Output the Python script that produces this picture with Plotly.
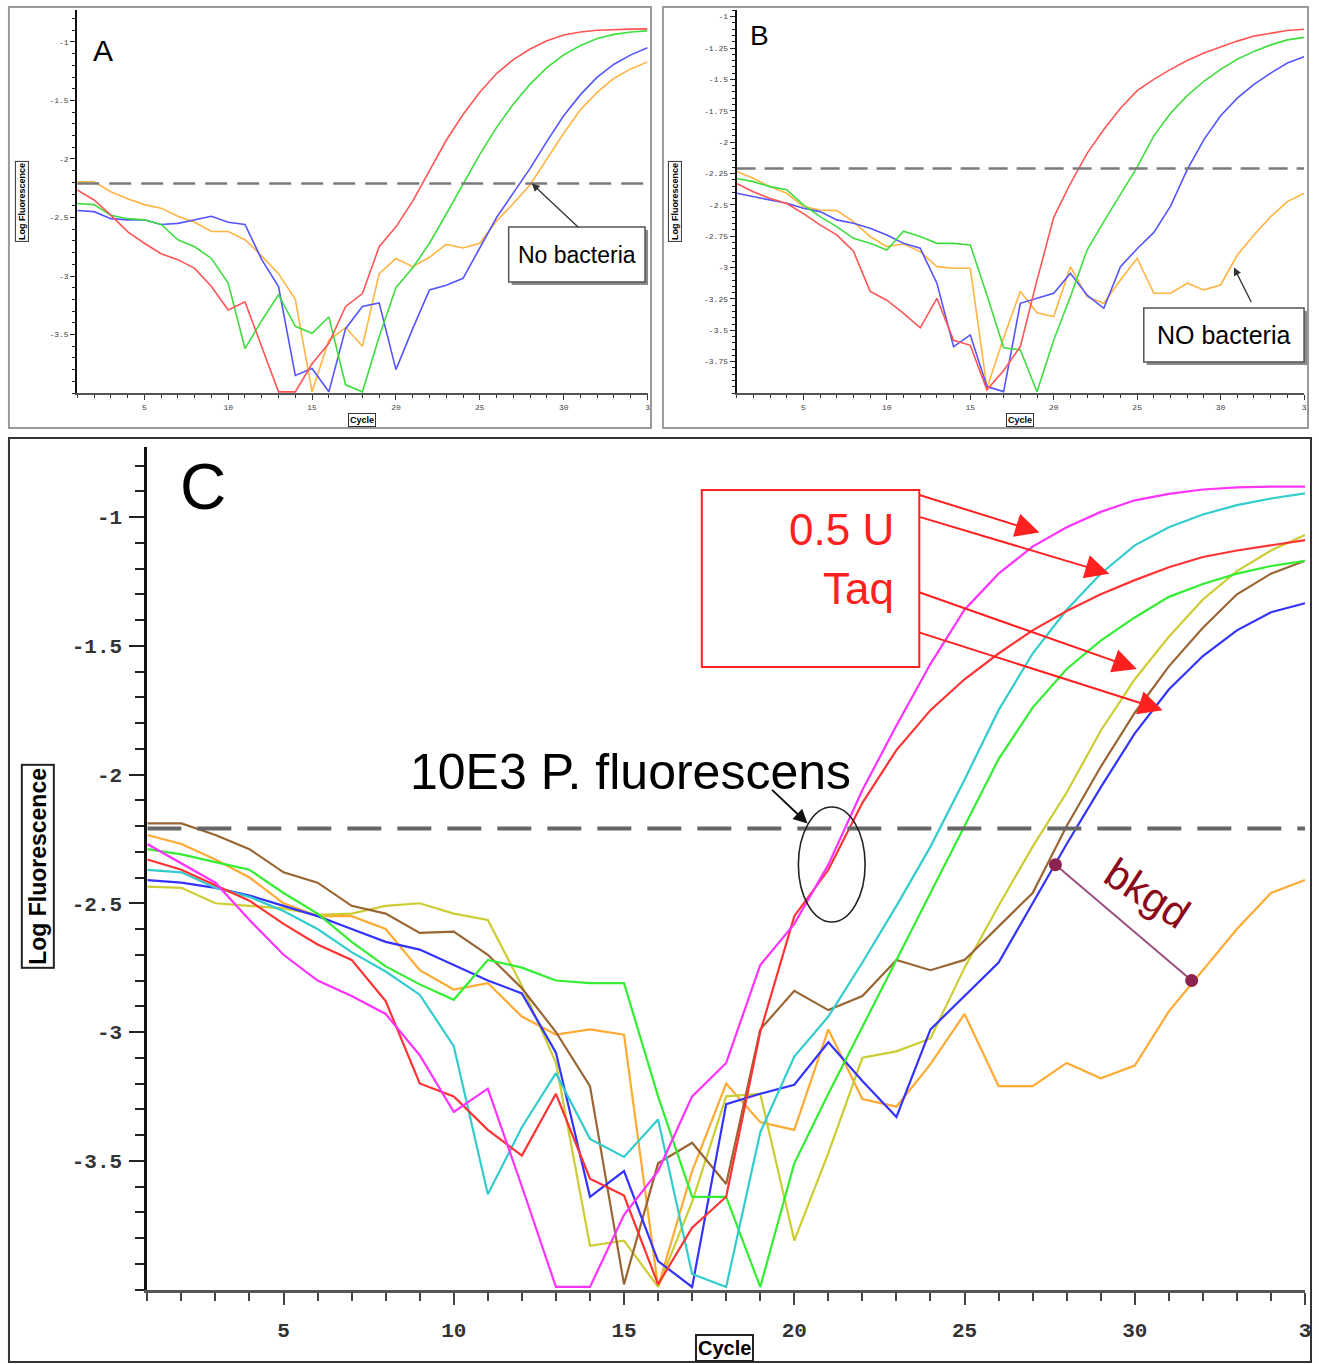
import plotly.graph_objects as go

W, H = 1319, 1364

cycles = list(range(1, 36))

# ---------------- Panel A ----------------
a_red = [-2.265, -2.35, -2.48, -2.62, -2.72, -2.81, -2.86, -2.935, -3.09, -3.29, -3.22, -3.60, -3.99, -3.99, -3.75,
         -3.575, -3.26, -3.15, -2.75, -2.58, -2.36, -2.10, -1.84, -1.62, -1.43, -1.27, -1.15, -1.06, -0.99, -0.94,
         -0.915, -0.90, -0.893, -0.89, -0.888]
a_green = [-2.38, -2.39, -2.48, -2.51, -2.52, -2.56, -2.69, -2.75, -2.85, -3.06, -3.62, -3.38, -3.16, -3.43, -3.49,
           -3.35, -3.93, -3.99, -3.52, -3.10, -2.93, -2.72, -2.47, -2.21, -1.96, -1.73, -1.53, -1.36, -1.22, -1.11,
           -1.03, -0.97, -0.935, -0.915, -0.905]
a_blue = [-2.44, -2.45, -2.51, -2.52, -2.52, -2.56, -2.55, -2.52, -2.49, -2.54, -2.56, -2.86, -3.09, -3.85, -3.79,
          -3.99, -3.45, -3.26, -3.23, -3.80, -3.45, -3.12, -3.08, -3.02, -2.76, -2.50, -2.29, -2.08, -1.85, -1.63,
          -1.45, -1.30, -1.19, -1.11, -1.05]
a_orange = [-2.195, -2.195, -2.28, -2.34, -2.39, -2.42, -2.49, -2.54, -2.62, -2.62, -2.69, -2.83, -2.98, -3.20, -3.99,
            -3.55, -3.44, -3.60, -2.98, -2.85, -2.92, -2.84, -2.73, -2.76, -2.72, -2.53, -2.38, -2.22, -2.00, -1.78,
            -1.58, -1.43, -1.31, -1.23, -1.17]
a_threshold = -2.21

# ---------------- Panel B ----------------
b_red = [-2.33, -2.395, -2.45, -2.49, -2.57, -2.66, -2.74, -2.87, -3.19, -3.26, -3.365, -3.48, -3.245, -3.58, -3.62,
         -3.975, -3.82, -3.63, -3.10, -2.60, -2.33, -2.09, -1.90, -1.73, -1.59, -1.50, -1.42, -1.35, -1.29, -1.24,
         -1.195, -1.155, -1.13, -1.11, -1.10]
b_green = [-2.29, -2.315, -2.355, -2.38, -2.50, -2.594, -2.674, -2.767, -2.807, -2.86, -2.71, -2.753, -2.807, -2.807,
           -2.82, -3.22, -3.64, -3.657, -3.99, -3.577, -3.232, -2.86, -2.634, -2.42, -2.20, -1.95, -1.77, -1.63,
           -1.515, -1.42, -1.34, -1.277, -1.225, -1.185, -1.165]
b_blue = [-2.408, -2.435, -2.46, -2.488, -2.528, -2.554, -2.62, -2.647, -2.687, -2.74, -2.807, -2.846, -3.125, -3.63,
          -3.537, -3.949, -3.989, -3.285, -3.245, -3.205, -3.046, -3.22, -3.325, -2.993, -2.85, -2.72, -2.51, -2.22,
          -1.98, -1.79, -1.65, -1.54, -1.45, -1.37, -1.32]
b_orange = [-2.235, -2.289, -2.355, -2.408, -2.514, -2.541, -2.546, -2.634, -2.753, -2.833, -2.812, -2.873, -2.993,
            -3.006, -3.006, -3.96, -3.56, -3.19, -3.36, -3.39, -2.993, -3.232, -3.285, -3.10, -2.926, -3.205, -3.205,
            -3.125, -3.178, -3.139, -2.90, -2.74, -2.594, -2.474, -2.408]
b_threshold = -2.21

# ---------------- Panel C ----------------
c_magenta = [-2.27, -2.345, -2.42, -2.565, -2.70, -2.80, -2.86, -2.93, -3.09, -3.31, -3.22, -3.60, -3.99, -3.99,
             -3.71, -3.54, -3.25, -3.12, -2.74, -2.58, -2.35, -2.06, -1.81, -1.57, -1.36, -1.22, -1.115, -1.04,
             -0.98, -0.935, -0.91, -0.893, -0.885, -0.882, -0.882]
c_red = [-2.33, -2.37, -2.43, -2.49, -2.58, -2.66, -2.72, -2.88, -3.20, -3.25, -3.38, -3.48, -3.24, -3.57, -3.635,
         -3.98, -3.76, -3.64, -3.00, -2.55, -2.37, -2.11, -1.905, -1.75, -1.63, -1.53, -1.44, -1.365, -1.30, -1.245,
         -1.195, -1.155, -1.13, -1.11, -1.09]
c_cyan = [-2.37, -2.38, -2.44, -2.475, -2.53, -2.60, -2.69, -2.765, -2.855, -3.055, -3.63, -3.37, -3.16, -3.415,
          -3.485, -3.34, -3.94, -3.99, -3.39, -3.095, -2.94, -2.73, -2.51, -2.28, -2.02, -1.75, -1.53, -1.36, -1.22,
          -1.11, -1.04, -0.99, -0.954, -0.928, -0.908]
c_green = [-2.29, -2.31, -2.34, -2.37, -2.46, -2.54, -2.65, -2.745, -2.815, -2.875, -2.72, -2.75, -2.80, -2.81, -2.81,
           -3.25, -3.64, -3.64, -3.99, -3.51, -3.24, -2.98, -2.72, -2.46, -2.205, -1.94, -1.74, -1.59, -1.48, -1.39,
           -1.31, -1.26, -1.22, -1.19, -1.17]
c_yellow = [-2.435, -2.44, -2.50, -2.51, -2.52, -2.545, -2.54, -2.51, -2.50, -2.54, -2.565, -2.82, -3.12, -3.83,
            -3.81, -3.99, -3.66, -3.25, -3.24, -3.81, -3.47, -3.10, -3.075, -3.025, -2.75, -2.51, -2.28, -2.07,
            -1.83, -1.63, -1.465, -1.32, -1.21, -1.13, -1.07]
c_brown = [-2.19, -2.19, -2.235, -2.29, -2.38, -2.42, -2.51, -2.54, -2.615, -2.61, -2.70, -2.83, -3.00, -3.21, -3.98,
           -3.51, -3.43, -3.59, -2.99, -2.84, -2.915, -2.86, -2.72, -2.76, -2.72, -2.59, -2.46, -2.20, -1.97, -1.76,
           -1.58, -1.43, -1.30, -1.22, -1.17]
c_blue = [-2.41, -2.42, -2.44, -2.47, -2.51, -2.55, -2.60, -2.65, -2.68, -2.74, -2.80, -2.85, -3.08, -3.64, -3.54,
          -3.89, -3.99, -3.28, -3.24, -3.205, -3.04, -3.19, -3.33, -2.99, -2.86, -2.73, -2.50, -2.27, -2.05, -1.84,
          -1.67, -1.54, -1.44, -1.37, -1.335]
c_orange = [-2.235, -2.27, -2.33, -2.40, -2.50, -2.55, -2.55, -2.60, -2.76, -2.835, -2.81, -2.94, -3.01, -2.99, -3.01,
            -3.99, -3.54, -3.20, -3.35, -3.38, -2.99, -3.26, -3.29, -3.125, -2.93, -3.21, -3.21, -3.12, -3.18, -3.13,
            -2.92, -2.76, -2.60, -2.46, -2.41]
c_threshold = -2.21
bkgd_x = [27.67, 31.67]
bkgd_y = [-2.35, -2.80]

# tick labels
x_tickvals = [5, 10, 15, 20, 25, 30, 35]
x_ticktext = ["5", "10", "15", "20", "25", "30", "3"]
ac_ytickvals = [-1, -1.5, -2, -2.5, -3, -3.5]
ac_yticktext = ["-1", "-1.5", "-2", "-2.5", "-3", "-3.5"]
b_ytickvals = [-1, -1.25, -1.5, -1.75, -2, -2.25, -2.5, -2.75, -3, -3.25, -3.5, -3.75]
b_yticktext = ["-1", "-1.25", "-1.5", "-1.75", "-2", "-2.25", "-2.5", "-2.75", "-3", "-3.25", "-3.5", "-3.75"]


def px(x):
    return x / W


def py(y):
    return 1 - y / H


SANS = "Liberation Sans, Arial, sans-serif"
NARROW = "Liberation Sans Narrow, Arial Narrow, Liberation Sans, sans-serif"
MONO = "Liberation Mono, DejaVu Sans Mono, monospace"

fig = go.Figure()


def add_line(y, color, width, xa, ya):
    fig.add_trace(go.Scatter(x=cycles, y=y, mode="lines", line=dict(color=color, width=width),
                             xaxis=xa, yaxis=ya, showlegend=False, hoverinfo="skip"))


def add_threshold(thr, xa, ya, width, dash, color):
    fig.add_trace(go.Scatter(x=[1, 35], y=[thr, thr], mode="lines",
                             line=dict(color=color, width=width, dash=dash),
                             xaxis=xa, yaxis=ya, showlegend=False, hoverinfo="skip"))


# Panel A traces
for ys, col in [(a_orange, "#ffb444"), (a_blue, "#5555ff"), (a_green, "#3fdd3f"), (a_red, "#ff5555")]:
    add_line(ys, col, 1.6, "x", "y")
add_threshold(a_threshold, "x", "y", 2.5, "22px,10px", "#7a7a7a")

# Panel B traces
for ys, col in [(b_orange, "#ffb444"), (b_blue, "#5555ff"), (b_green, "#3fdd3f"), (b_red, "#ff5555")]:
    add_line(ys, col, 1.6, "x2", "y2")
add_threshold(b_threshold, "x2", "y2", 2.5, "19px,9px", "#7a7a7a")

# Panel C traces
for ys, col in [(c_orange, "#ffaa33"), (c_yellow, "#cccc33"), (c_brown, "#996633"), (c_blue, "#3333ff"),
                (c_green, "#33ee33"), (c_cyan, "#33cccc"), (c_red, "#ff3333"), (c_magenta, "#ff33ff")]:
    add_line(ys, col, 2.2, "x3", "y3")
add_threshold(c_threshold, "x3", "y3", 4, "34px,16px", "#666666")
fig.add_trace(go.Scatter(x=bkgd_x, y=bkgd_y, mode="lines+markers",
                         line=dict(color="#9b4f80", width=2),
                         marker=dict(size=13, color="#8b2252"),
                         xaxis="x3", yaxis="y3", showlegend=False, hoverinfo="skip"))


def xaxis_cfg(domain, anchor, small):
    if small:
        return dict(domain=domain, anchor=anchor, range=[1, 35], showline=True, linecolor="#555", linewidth=2,
                    ticks="outside", ticklen=5, tickwidth=1, tickcolor="#333", tickmode="array",
                    tickvals=x_tickvals, ticktext=x_ticktext,
                    tickfont=dict(family=MONO, size=8, color="#444"),
                    minor=dict(ticks="outside", tick0=1, dtick=1, ticklen=3, tickcolor="#333", tickwidth=1),
                    showgrid=False, zeroline=False, fixedrange=True)
    return dict(domain=domain, anchor=anchor, range=[1, 35], showline=True, linecolor="#555", linewidth=3,
                ticks="outside", ticklen=12, tickwidth=2, tickcolor="#444", tickmode="array",
                tickvals=x_tickvals, ticktext=x_ticktext, ticklabelstandoff=7,
                tickfont=dict(family=MONO, size=21, color="#333", weight="bold"),
                minor=dict(ticks="outside", tick0=1, dtick=1, ticklen=8, tickcolor="#444", tickwidth=2),
                showgrid=False, zeroline=False, fixedrange=True)


def yaxis_cfg(domain, anchor, rng, tv, tt, minor_dtick, small):
    if small:
        return dict(domain=domain, anchor=anchor, range=rng, showline=True, linecolor="#111", linewidth=2,
                    ticks="outside", ticklen=5, tickwidth=1, tickcolor="#222", tickmode="array",
                    tickvals=tv, ticktext=tt, tickfont=dict(family=MONO, size=8, color="#444"),
                    minor=dict(ticks="outside", tick0=-4, dtick=minor_dtick, ticklen=3, tickcolor="#222",
                               tickwidth=1),
                    showgrid=False, zeroline=False, fixedrange=True)
    return dict(domain=domain, anchor=anchor, range=rng, showline=True, linecolor="#111", linewidth=3,
                ticks="outside", ticklen=15, tickwidth=2, tickcolor="#222", tickmode="array",
                tickvals=tv, ticktext=tt, ticklabelstandoff=3,
                tickfont=dict(family=MONO, size=21, color="#333", weight="bold"),
                minor=dict(ticks="outside", tick0=-4, dtick=minor_dtick, ticklen=9, tickcolor="#222",
                           tickwidth=2),
                showgrid=False, zeroline=False, fixedrange=True)


shapes = []


def rect(x0, y0, x1, y1, color, width, fill=None):
    d = dict(type="rect", xref="paper", yref="paper", x0=px(x0), x1=px(x1), y0=py(y1), y1=py(y0),
             line=dict(color=color, width=width), layer="above")
    if fill:
        d["fillcolor"] = fill
    if width == 0:
        d["line"] = dict(width=0)
    shapes.append(d)


# panel frames
rect(9, 7, 654, 428, "#9a9a9a", 2)
rect(666, 7, 1314, 428, "#9a9a9a", 2)
rect(9, 438, 1317, 1362, "#333333", 2)
# label boxes with shadow
rect(514, 230, 651, 285, None, 0, "#8a8a8a")
rect(511, 227, 648, 282, "#555555", 1.5, "white")
rect(1152, 311, 1313, 365, None, 0, "#8a8a8a")
rect(1149, 308, 1310, 362, "#555555", 1.5, "white")
# red Taq box
rect(705, 490, 923.5, 667, "#ff2020", 2)
# ellipse around threshold crossings
shapes.append(dict(type="circle", xref="x3", yref="y3", x0=20.12, x1=22.08, y0=-2.573, y1=-2.126,
                   line=dict(color="#222", width=1.6)))

ann = []


def text(x, y, t, size, color="black", family=SANS, xanchor="center", angle=0, **kw):
    d = dict(x=px(x), y=py(y), xref="paper", yref="paper", text=t, showarrow=False,
             font=dict(size=size, color=color, family=family), xanchor=xanchor, yanchor="middle",
             textangle=angle)
    d.update(kw)
    ann.append(d)


def arrow(x, y, ax, ay, xref, yref, color, width, size, head=2):
    ann.append(dict(x=x, y=y, xref=xref, yref=yref, ax=ax, ay=ay, text="", showarrow=True,
                    arrowhead=head, arrowsize=size, arrowwidth=width, arrowcolor=color, standoff=0))


# axis titles
text(22, 201, "<b>Log Fluorescence</b>", 9, angle=-90, bordercolor="#333", borderwidth=1, borderpad=1,
     bgcolor="white")
text(364, 420, "<b>Cycle</b>", 9, bordercolor="#333", borderwidth=1, borderpad=1, bgcolor="white")
text(678, 201, "<b>Log Fluorescence</b>", 9, angle=-90, bordercolor="#333", borderwidth=1, borderpad=1,
     bgcolor="white")
text(1025, 420, "<b>Cycle</b>", 9, bordercolor="#333", borderwidth=1, borderpad=1, bgcolor="white")
text(38, 866, "<b>Log Fluorescence</b>", 23, angle=-90, bordercolor="#222", borderwidth=2, borderpad=2,
     bgcolor="white")
text(728, 1348, "<b>Cycle</b>", 20, bordercolor="#222", borderwidth=2, borderpad=1, bgcolor="white")

# panel letters
text(103, 51, "A", 30, family=NARROW)
text(763, 36, "B", 28, family=NARROW)
text(204, 487, "C", 64)

# labels
text(579.5, 255, "No bacteria", 23, family=NARROW)
text(1229.5, 335, "NO bacteria", 25, family=NARROW)
text(900, 529, "0.5 U", 44, color="#ff2020", xanchor="right")
text(900, 588, "Taq", 44, color="#ff2020", xanchor="right")
text(410, 772, "10E3 P. fluorescens", 50, xanchor="left")
text(1153, 893, "bkgd", 42, color="#8b0a1a", angle=33)

# arrows
arrow(28.1, a_threshold, 48, 45, "x", "y", "#333", 1.3, 1.2)
arrow(30.8, -3.0, 18, 36, "x2", "y2", "#333", 1.3, 1.2)
arrow(20.39, -2.19, -37, -35, "x3", "y3", "#111", 2, 1.4)
arrow(27.2, -1.06, -121.5, -38, "x3", "y3", "#ff2020", 2, 2.4)
arrow(29.25, -1.22, -190.5, -57, "x3", "y3", "#ff2020", 2, 2.4)
arrow(30.06, -1.59, -218.5, -77, "x3", "y3", "#ff2020", 2, 2.4)
arrow(30.82, -1.75, -244.5, -78, "x3", "y3", "#ff2020", 2, 2.4)

fig.update_layout(
    width=W, height=H, margin=dict(l=0, r=0, t=0, b=0, pad=0),
    paper_bgcolor="white", plot_bgcolor="white", showlegend=False,
    xaxis=xaxis_cfg([px(77.6), px(650.5)], "y", True),
    yaxis=yaxis_cfg([py(393), py(10.4)], "x", [-4, -0.73], ac_ytickvals, ac_yticktext, 0.1, True),
    xaxis2=xaxis_cfg([px(740), px(1310)], "y2", True),
    yaxis2=yaxis_cfg([py(393), py(10)], "x2", [-4, -0.947], b_ytickvals, b_yticktext, 0.05, True),
    xaxis3=xaxis_cfg([px(148), px(1311)], "y3", False),
    yaxis3=yaxis_cfg([py(1289.5), py(447)], "x3", [-4, -0.728], ac_ytickvals, ac_yticktext, 0.1, False),
    shapes=shapes, annotations=ann,
)

fig.write_html("out.html", config={"displayModeBar": False},
               post_script="document.body.style.margin='0';document.body.style.overflow='hidden';")
